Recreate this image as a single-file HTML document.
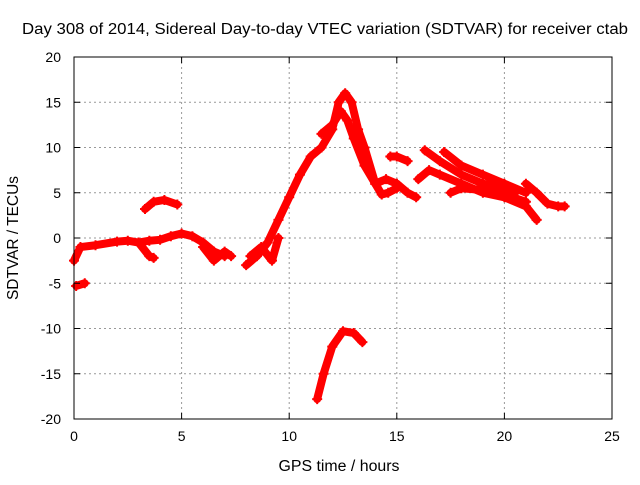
<!DOCTYPE html>
<html><head><meta charset="utf-8"><style>
body{margin:0;background:#fff;font-family:"Liberation Sans",sans-serif}
svg text{font-family:"Liberation Sans",sans-serif;font-size:14px;fill:#000}
</style></head><body>
<svg id="c" width="640" height="480">
<text x="22" y="34" textLength="606" lengthAdjust="spacingAndGlyphs" style="font-size:15.5px">Day 308 of 2014, Sidereal Day-to-day VTEC variation (SDTVAR) for receiver ctab</text>
<text x="339" y="471" text-anchor="middle" textLength="121" lengthAdjust="spacingAndGlyphs" style="font-size:15.5px">GPS time / hours</text>
<text transform="translate(18,238) rotate(-90)" text-anchor="middle" textLength="124" lengthAdjust="spacingAndGlyphs" style="font-size:15.5px">SDTVAR / TECUs</text>
<g id="grid"></g><g id="marks"></g><g id="axes"></g>
</svg>
<script>
const xTicks=[0,5,10,15,20,25];
const yTicks=[-20,-15,-10,-5,0,5,10,15,20];
const s1h=[0,0.3,1,2,2.5,3,3.5,4,4.5,5,5.5,6,6.5,7];
const s1v=[-2.5,-1,-0.8,-0.4,-0.3,-0.5,-0.3,-0.2,0.2,0.5,0.2,-0.5,-1.5,-2];
const s2h=[0.1,0.5];const s2v=[-5.3,-5];
const s3h=[3.3,3.7,4.2,4.8];const s3v=[3.2,4,4.2,3.7];
const s4h=[3,3.5,3.7];const s4v=[-0.5,-2,-2.2];
const s5h=[6,6.5,7,7.3];const s5v=[-1,-2.5,-1.5,-2];
const s6h=[8,8.5,9,9.5,10,10.5,11,11.5,12,12.3,12.6,12.9,13.2,13.5,14,14.3,14.6,15];
const s6v=[-3,-2,-0.5,2,4.5,7,9,10,12,15,16,15,12,10,6,4.8,5,5.5];
const s7h=[11.5,12,12.4,12.7,13,13.5,14,14.5,15];
const s7v=[11.5,12.5,14,13,11,8,6,6.5,6];
const s8h=[8.2,8.7,9.2,9.5];const s8v=[-2,-1,-2.5,0];
const s9h=[11.3,11.6,12,12.5,13,13.4];const s9v=[-17.8,-15,-12,-10.3,-10.5,-11.5];
const s10h=[14.7,15,15.5];const s10v=[9,9,8.5];
const s11h=[16,16.5,17,18,19,20,21,21.5];const s11v=[6.5,7.5,7,6,5,4.5,3.5,2];
const s12h=[16.3,17,18,19,20,20.5];const s12v=[9.7,8.5,7,6,5.5,5];
const s13h=[17.2,18,19,20,21];const s13v=[9.5,8,7,6,5];
const s14h=[17.5,18,19,20,21];const s14v=[5,5.5,5.3,4.8,4];
const s15h=[21,21.5,22,22.5,22.8];const s15v=[6,5,3.8,3.5,3.5];
const s16h=[15,15.5,15.9];const s16v=[6,5,4.5];
const series=[[s1h,s1v],[s2h,s2v],[s3h,s3v],[s4h,s4v],[s5h,s5v],[s6h,s6v],[s7h,s7v],[s8h,s8v],[s9h,s9v],[s10h,s10v],[s11h,s11v],[s12h,s12v],[s13h,s13v],[s14h,s14v],[s15h,s15v],[s16h,s16v]];
const X0=74,X1=612,Y0=419,Y1=57;
const xs=v=>X0+(v-0)/25*(X1-X0);
const ys=v=>Y0-(v+20)/40*(Y0-Y1);
const NS="http://www.w3.org/2000/svg";
function mk(t,a,p){const e=document.createElementNS(NS,t);for(const k in a)e.setAttribute(k,a[k]);p.appendChild(e);return e;}
const grid=document.getElementById('grid'),axes=document.getElementById('axes'),marks=document.getElementById('marks');
xTicks.forEach(t=>{const x=xs(t);
 if(t>0&&t<25){const g=mk('line',{x1:x,x2:x,y1:Y1,y2:Y0,stroke:'#999','stroke-dasharray':'2,3'},grid);}
 mk('line',{x1:x,x2:x,y1:Y0,y2:Y0-6,stroke:'#000'},axes);mk('line',{x1:x,x2:x,y1:Y1,y2:Y1+6,stroke:'#000'},axes);
 const l=mk('text',{x:x,y:Y0+22,'text-anchor':'middle'},axes);l.textContent=t;
 });
yTicks.forEach(t=>{const y=ys(t);
 if(t>-20&&t<20){const g=mk('line',{x1:X0,x2:X1,y1:y,y2:y,stroke:'#999','stroke-dasharray':'2,3'},grid);}
 mk('line',{x1:X0,x2:X0+6,y1:y,y2:y,stroke:'#000'},axes);mk('line',{x1:X1,x2:X1-6,y1:y,y2:y,stroke:'#000'},axes);
 const l=mk('text',{x:X0-13,y:y+5,'text-anchor':'end'},axes);l.textContent=t;
 });
const fr=mk('rect',{x:X0,y:Y1,width:X1-X0,height:Y0-Y1,fill:'none',stroke:'#000'},axes);

series.forEach(([h,v])=>{
 const pts=h.map((t,i)=>xs(t)+','+ys(v[i])).join(' ');
 const pl=mk('polyline',{points:pts,fill:'none',stroke:'#f00','stroke-width':8,'stroke-linejoin':'round','stroke-linecap':'round'},marks);
 
 h.forEach((t,i)=>{const x=xs(t),y=ys(v[i]);
  const p=mk('path',{d:`M${x-5},${y}H${x+5}M${x},${y-5}V${y+5}`,stroke:'#f00','stroke-width':2},marks);
  });
});
</script>
</body></html>
